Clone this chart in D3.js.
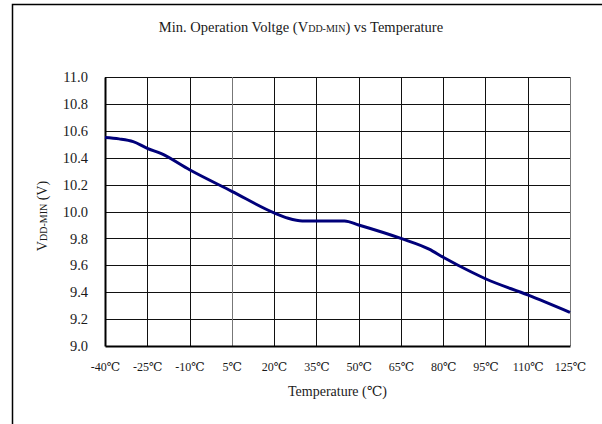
<!DOCTYPE html>
<html>
<head>
<meta charset="utf-8">
<script src="https://cdn.jsdelivr.net/npm/d3@7"></script>
<style>
  html, body { margin: 0; padding: 0; background: #fff; }
  svg text { font-family: "Liberation Serif", "DejaVu Serif", serif !important; }
</style>
</head>
<body>
<div id="chart"></div>
<script>
// Minimum operating voltage vs temperature
const temperatures = [-40, -35, -30, -25, -20, -10, 5, 20, 25, 30, 35, 45, 50, 65, 75, 80, 90, 95, 110, 125];
const vddMin =       [10.55, 10.54, 10.52, 10.47, 10.43, 10.31, 10.15, 9.99, 9.95, 9.93, 9.93, 9.93, 9.90, 9.80, 9.72, 9.66, 9.55, 9.50, 9.38, 9.25];
const xTickValues = [-40, -25, -10, 5, 20, 35, 50, 65, 80, 95, 110, 125];
const yTickValues = [9.0, 9.2, 9.4, 9.6, 9.8, 10.0, 10.2, 10.4, 10.6, 10.8, 11.0];

const W = 602, H = 424;
const plot = { left: 105, right: 570, top: 77, bottom: 346 };

const svg = d3.select("#chart").append("svg")
  .attr("width", W).attr("height", H);

// outer frame
svg.append("rect")
  .attr("x", 12.5).attr("y", 4.5)
  .attr("width", 700).attr("height", 600)
  .attr("fill", "#fff").attr("stroke", "#000").attr("stroke-width", 1.5);

const x = d3.scaleLinear().domain([-40, 125]).range([plot.left, plot.right]);
const y = d3.scaleLinear().domain([9.0, 11.0]).range([plot.bottom, plot.top]);

// title
const title = svg.append("text")
  .attr("x", 301).attr("y", 32)
  .attr("text-anchor", "middle")
  .attr("font-size", 14.5).attr("fill", "#1a1a1a");
title.append("tspan").text("Min. Operation Voltge (V");
title.append("tspan").attr("font-size", 10).text("DD-MIN");
title.append("tspan").text(") vs Temperature");

// grid
const grid = svg.append("g");
grid.selectAll("line.h").data(yTickValues.slice(1)).join("line")
  .attr("x1", plot.left).attr("x2", plot.right)
  .attr("y1", d => Math.round(y(d)) + 0.5).attr("y2", d => Math.round(y(d)) + 0.5)
  .attr("stroke", "#111").attr("stroke-width", 1);
grid.selectAll("line.v").data(xTickValues.slice(1)).join("line")
  .attr("y1", plot.top).attr("y2", plot.bottom)
  .attr("x1", d => Math.round(x(d)) + 0.5).attr("x2", d => Math.round(x(d)) + 0.5)
  .attr("stroke", d => (d === 5 || d === 125) ? "#777" : "#111")
  .attr("stroke-width", 1);

// axes
const yAxis = svg.append("g")
  .attr("transform", `translate(${plot.left},0)`)
  .call(d3.axisLeft(y).tickValues(yTickValues).tickFormat(d3.format(".1f")).tickSize(0).tickPadding(17));
yAxis.select(".domain").attr("stroke", "#000").attr("stroke-width", 2);
yAxis.selectAll("text").attr("font-size", 14.5).attr("fill", "#1a1a1a");

const xAxis = svg.append("g")
  .attr("transform", `translate(0,${plot.bottom})`)
  .call(d3.axisBottom(x).tickValues(xTickValues).tickFormat(d => d + "℃").tickSize(0).tickPadding(16));
xAxis.select(".domain").attr("stroke", "#000").attr("stroke-width", 2);
xAxis.selectAll("text").attr("font-size", 12).attr("fill", "#1a1a1a");

// axis titles
svg.append("text")
  .attr("x", (plot.left + plot.right) / 2).attr("y", 396)
  .attr("text-anchor", "middle")
  .attr("font-size", 14).attr("fill", "#1a1a1a")
  .text("Temperature (℃)");

const yTitle = svg.append("text")
  .attr("transform", "translate(47,216) rotate(-90)")
  .attr("text-anchor", "middle")
  .attr("font-size", 14).attr("fill", "#1a1a1a");
yTitle.append("tspan").text("V");
yTitle.append("tspan").attr("font-size", 10).text("DD-MIN");
yTitle.append("tspan").text("  (V)");

// data line
const line = d3.line()
  .x((d, i) => x(temperatures[i]))
  .y(d => y(d))
  .curve(d3.curveMonotoneX);

svg.append("path")
  .datum(vddMin)
  .attr("d", line)
  .attr("fill", "none")
  .attr("stroke", "#00007a")
  .attr("stroke-width", 3)
  .attr("stroke-linejoin", "round");
</script>
</body>
</html>
